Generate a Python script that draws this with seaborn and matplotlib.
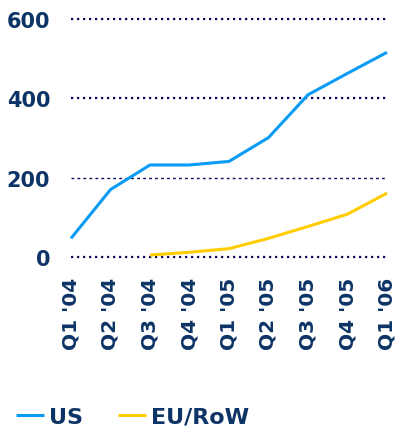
import numpy as np
import pandas as pd
import matplotlib
matplotlib.use("Agg")
import matplotlib.pyplot as plt
import seaborn as sns

quarters = ["Q1 '04", "Q2 '04", "Q3 '04", "Q4 '04", "Q1 '05",
            "Q2 '05", "Q3 '05", "Q4 '05", "Q1 '06"]
us = [47, 170, 232, 232, 241, 301, 409, 463, 516]
eu_row = [np.nan, np.nan, 5, 12, 21, 47, 77, 108, 161]
series_names = ["US", "EU/RoW"]
series_colors = ["#0a9bf5", "#ffcc00"]
y_ticks = [0, 200, 400, 600]

navy = "#0d3466"
grid_navy = "#0a0a55"

sns.set_theme(style="white")
plt.rcParams["font.family"] = ["DejaVu Sans"]

df = pd.DataFrame({
    "quarter": quarters * 2,
    "pos": list(range(len(quarters))) * 2,
    "value": us + eu_row,
    "region": [series_names[0]] * len(quarters) + [series_names[1]] * len(quarters),
})

fig = plt.figure(figsize=(3.98, 4.31), dpi=100)
ax = fig.add_axes([71 / 398, 1 - 258 / 431, 316 / 398, 238 / 431])

sns.lineplot(data=df, x="pos", y="value", hue="region",
             palette=dict(zip(series_names, series_colors)),
             linewidth=2.2, ax=ax, legend=True)
for ln in ax.get_lines():
    ln.set_clip_on(False)
    ln.set_solid_capstyle("butt")

ax.set_xlim(0, len(quarters) - 1)
ax.set_ylim(0, 600)
ax.set_xticks(range(len(quarters)))
ax.set_xticklabels(quarters, rotation=90, fontsize=14.5, fontweight="bold",
                   color=navy)
ax.set_yticks(y_ticks)
ax.set_yticklabels([str(v) for v in y_ticks], fontsize=15, fontweight="bold",
                   color=navy)
ax.tick_params(axis="x", length=0, pad=14)
ax.tick_params(axis="y", length=0, pad=15)
ax.set_xlabel("")
ax.set_ylabel("")
for sp in ax.spines.values():
    sp.set_visible(False)

ax.grid(axis="y", color=grid_navy, linestyle=(0, (1, 1.7)), linewidth=1.6)
ax.grid(axis="x", visible=False)
ax.set_axisbelow(True)
for i, gl in enumerate(ax.get_ygridlines()):
    gl.set_clip_on(False)
    if y_ticks[i] == 200:
        gl.set_linewidth(1.0)
        gl.set_linestyle((0, (2, 2.3)))

handles, labels = ax.get_legend_handles_labels()
ax.get_legend().remove()
fig.legend(handles, labels, loc="center left",
           bbox_to_anchor=(16 / 398, 1 - 418 / 431),
           ncol=2, frameon=False,
           prop={"weight": "bold", "size": 16},
           handlelength=1.25, handletextpad=0.25, columnspacing=1.55,
           borderpad=0, borderaxespad=0, labelcolor=navy)

fig.savefig("out.png", dpi=100)
